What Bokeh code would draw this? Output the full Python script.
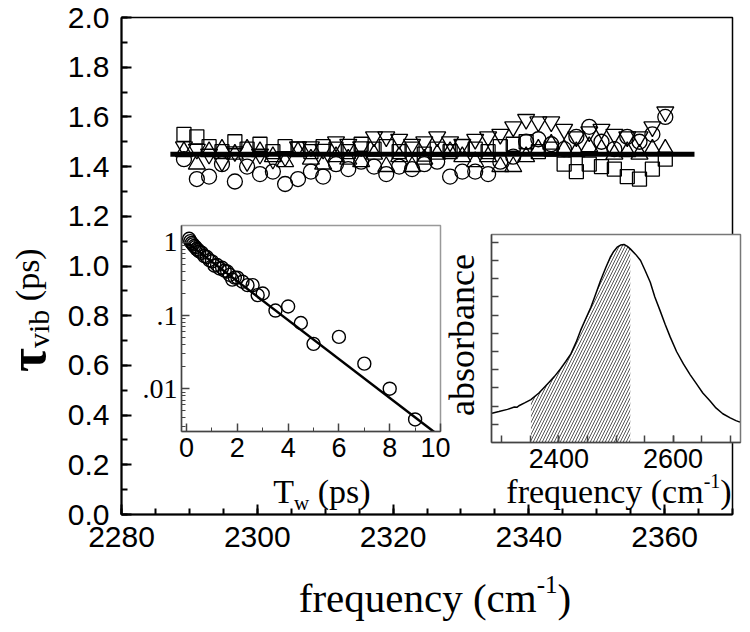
from bokeh.plotting import figure
from bokeh.models import FixedTicker, Range1d, Div
from bokeh.layouts import column
from bokeh.embed import file_html
from bokeh.resources import INLINE

# ---------------- main panel data ----------------
freq = [2289.2, 2291.1, 2292.9, 2294.8, 2296.7, 2298.5, 2300.4, 2302.3, 2304.1, 2306.0,
        2307.9, 2309.7, 2311.6, 2313.4, 2315.3, 2317.2, 2319.0, 2320.9, 2322.8, 2324.6,
        2326.5, 2328.4, 2330.2, 2332.1, 2334.0, 2335.8, 2337.7, 2339.6, 2341.4, 2343.3,
        2345.2, 2347.0, 2348.9, 2350.7, 2352.6, 2354.5, 2356.3, 2358.2, 2360.1]
tau_square = [1.53, 1.52, 1.48, 1.46, 1.50, 1.47, 1.49, 1.46, 1.48, 1.47,
              1.46, 1.48, 1.47, 1.46, 1.49, 1.47, 1.48, 1.46, 1.47, 1.45,
              1.47, 1.46, 1.48, 1.47, 1.46, 1.48, 1.49, 1.50, 1.46, 1.47,
              1.41, 1.38, 1.41, 1.40, 1.39, 1.36, 1.35, 1.39, 1.43]
tau_circle = [1.43, 1.35, 1.36, 1.41, 1.34, 1.40, 1.37, 1.38, 1.33, 1.35,
              1.38, 1.36, 1.41, 1.39, 1.42, 1.40, 1.37, 1.40, 1.39, 1.41,
              1.42, 1.36, 1.38, 1.38, 1.37, 1.42, 1.44, 1.50, 1.51, 1.49,
              1.47, 1.52, 1.56, 1.50, 1.47, 1.52, 1.50, 1.53, 1.60]
tau_up = [1.46, 1.41, 1.46, 1.47, 1.45, 1.47, 1.46, 1.44, 1.42, 1.46,
          1.43, 1.41, 1.44, 1.43, 1.42, 1.45, 1.40, 1.44, 1.40, 1.43,
          1.45, 1.46, 1.44, 1.42, 1.44, 1.40, 1.40, 1.44, 1.47, 1.49,
          1.47, 1.46, 1.48, 1.47, 1.45, 1.46, 1.45, 1.47, 1.47]
tau_down = [1.48, 1.47, 1.45, 1.42, 1.46, 1.42, 1.45, 1.43, 1.44, 1.48,
            1.48, 1.47, 1.50, 1.49, 1.48, 1.52, 1.52, 1.51, 1.49, 1.50,
            1.52, 1.50, 1.49, 1.51, 1.52, 1.53, 1.56, 1.59, 1.58, 1.58,
            1.55, 1.52, 1.54, 1.55, 1.53, 1.52, 1.52, 1.56, 1.62]
mean_freq = [2287.2, 2364.4]
mean_tau = [1.45, 1.45]

x_ticks = [2280, 2300, 2320, 2340, 2360]
y_ticks = [0.0, 0.2, 0.4, 0.6, 0.8, 1.0, 1.2, 1.4, 1.6, 1.8, 2.0]
y_tick_labels = ["0.0", "0.2", "0.4", "0.6", "0.8", "1.0", "1.2", "1.4", "1.6", "1.8", "2.0"]

# ---------------- inset 1 (decay) ----------------
tw = [0.1, 0.15, 0.2, 0.25, 0.3, 0.35, 0.4, 0.45, 0.5, 0.6, 0.7, 0.8, 0.9, 1.0, 1.1, 1.2,
      1.3, 1.4, 1.5, 1.6, 1.7, 1.8, 1.9, 2.0, 2.2, 2.4, 2.6, 2.8, 3.0, 3.5, 4.0, 4.5,
      5.0, 6.0, 7.0, 8.0, 9.0]
decay = [1.12, 1.04, 0.98, 0.94, 0.89, 0.86, 0.81, 0.79, 0.75, 0.72, 0.65, 0.63, 0.57,
         0.55, 0.48, 0.49, 0.44, 0.45, 0.41, 0.40, 0.36, 0.31, 0.33, 0.33, 0.29, 0.26,
         0.26, 0.19, 0.20, 0.117, 0.133, 0.079, 0.041, 0.051, 0.022, 0.010, 0.0038]
fit_tw = [0.0, 10.0]
fit_decay = [1.0, 0.0022]
tw_ticks = [0, 2, 4, 6, 8, 10]
log_ticks = [0.01, 0.1, 1.0]
log_tick_labels = [".01", ".1", "1"]

# ---------------- inset 2 (absorbance) ----------------
ir_freq = [2283, 2295, 2310, 2322, 2327, 2330, 2340, 2351, 2365, 2380, 2392, 2403, 2412,
           2421, 2430, 2438, 2447, 2456, 2465, 2473, 2482, 2490, 2496, 2502, 2508, 2514,
           2520, 2525, 2534, 2543, 2551, 2560, 2568, 2577, 2586, 2595, 2606, 2618, 2630,
           2641, 2652, 2664, 2675, 2687, 2700, 2710, 2717]
ir_abs = [0.161, 0.170, 0.182, 0.195, 0.194, 0.202, 0.218, 0.236, 0.272, 0.322, 0.362,
          0.405, 0.445, 0.487, 0.550, 0.616, 0.680, 0.743, 0.820, 0.890, 0.960, 1.018,
          1.050, 1.073, 1.085, 1.088, 1.078, 1.064, 1.035, 1.000, 0.945, 0.881, 0.800,
          0.726, 0.650, 0.579, 0.500, 0.432, 0.372, 0.322, 0.272, 0.231, 0.190, 0.158,
          0.135, 0.120, 0.112]
shade_lo, shade_hi = 2351, 2525
ir_ticks = [2400, 2600]

SANS = "Liberation Sans"
SERIF = "Liberation Serif"


def text_div(html, left, top, w, h, size):
    inner = ('<div style="width:%dpx;height:%dpx;line-height:%dpx;text-align:center;'
             'white-space:nowrap;font-family:\'Liberation Serif\';font-size:%dpx;'
             'color:black;">%s</div>' % (w, h, h, size, html))
    st = {"position": "absolute", "left": "%dpx" % left, "top": "%dpx" % top}
    return Div(text=inner, width=w, height=h, margin=0, styles=st)


def vtext_div(html, left, top, w, h, size):
    # vertical text reading bottom-to-top, box w (across) x h (along)
    inner = ('<div style="writing-mode:vertical-rl;transform:rotate(180deg);'
             'width:%dpx;height:%dpx;line-height:%dpx;text-align:center;'
             'white-space:nowrap;font-family:\'Liberation Serif\';font-size:%dpx;'
             'color:black;">%s</div>' % (w, h, w, size, html))
    st = {"position": "absolute", "left": "%dpx" % left, "top": "%dpx" % top}
    return Div(text=inner, width=w, height=h, margin=0, styles=st)


def sup(t, size):
    return '<span style="font-size:%dpx;position:relative;top:-0.75em">%s</span>' % (size, t)


def sub(t, size):
    return '<span style="font-size:%dpx;position:relative;top:0.35em">%s</span>' % (size, t)


# ================= main figure =================
p = figure(width=742, height=624, x_range=Range1d(2280, 2370), y_range=Range1d(0, 2.0),
           output_backend="svg", toolbar_location=None,
           min_border_left=121, min_border_right=10, min_border_top=17, min_border_bottom=110)
p.grid.visible = False
p.outline_line_color = "black"
p.outline_line_width = 1.5
p.background_fill_color = "white"

p.xaxis.ticker = FixedTicker(ticks=x_ticks, minor_ticks=list(range(2280, 2371, 5)))
p.yaxis.ticker = FixedTicker(ticks=y_ticks, minor_ticks=[i / 10 for i in range(0, 21)])
p.yaxis.major_label_overrides = {t: l for t, l in zip(y_ticks, y_tick_labels)}
for ax in (p.xaxis[0], p.yaxis[0]):
    ax.axis_line_width = 2
    ax.major_tick_line_width = 2
    ax.minor_tick_line_width = 2
    ax.major_tick_in = 10
    ax.major_tick_out = 0
    ax.minor_tick_in = 6
    ax.minor_tick_out = 0
    ax.major_label_text_font = SANS
    ax.major_label_text_font_size = "30px"
    ax.major_label_text_color = "black"
    ax.major_label_standoff = 12

mk = dict(fill_color=None, line_color="black", line_width=1.3)
p.scatter(freq, tau_square, marker="square", size=14, **mk)
p.scatter(freq, tau_circle, marker="circle", size=15, **mk)
p.scatter(freq, tau_up, marker="triangle", size=17, **mk)
p.scatter(freq, tau_down, marker="inverted_triangle", size=17, **mk)
p.line(mean_freq, mean_tau, line_color="black", line_width=5)

# ================= inset 1 =================
i1 = figure(width=390, height=291, x_range=Range1d(-0.2, 10), y_range=Range1d(0.0026, 1.7),
            y_axis_type="log", output_backend="svg", toolbar_location=None,
            min_border_left=121, min_border_right=10, min_border_top=5, min_border_bottom=80,
            styles={"position": "absolute", "left": "60px", "top": "220px"})
i1.grid.visible = False
i1.outline_line_color = "#999999"
i1.outline_line_width = 1.5
i1.background_fill_color = "white"
i1.border_fill_alpha = 0
i1.xaxis.ticker = FixedTicker(ticks=tw_ticks, minor_ticks=list(range(0, 11)))
minor_log = [m * 10.0 ** e for e in (-3, -2, -1) for m in range(1, 10)]
i1.yaxis.ticker = FixedTicker(ticks=log_ticks, minor_ticks=minor_log)
i1.yaxis.major_label_overrides = {t: l for t, l in zip(log_ticks, log_tick_labels)}
for ax in (i1.xaxis[0], i1.yaxis[0]):
    ax.axis_line_color = "#444444"
    ax.axis_line_width = 1.5
    ax.major_tick_line_color = "#444444"
    ax.minor_tick_line_color = "#444444"
    ax.major_tick_line_width = 1.5
    ax.major_tick_in = 8
    ax.major_tick_out = 0
    ax.minor_tick_in = 4
    ax.minor_tick_out = 0
    ax.major_label_text_color = "black"
i1.xaxis.major_label_text_font = SANS
i1.xaxis.major_label_text_font_size = "27px"
i1.xaxis.major_label_standoff = 6
i1.yaxis.major_label_text_font = SERIF
i1.yaxis.major_label_text_font_size = "28px"
i1.yaxis.major_label_standoff = 4

i1.scatter(tw, decay, marker="circle", size=13, fill_color=None, line_color="black", line_width=1.4)
i1.line(fit_tw, fit_decay, line_color="black", line_width=2.5)

# ================= inset 2 =================
i2 = figure(width=380, height=293, x_range=Range1d(2282, 2718), y_range=Range1d(0, 1.143),
            output_backend="svg", toolbar_location=None,
            min_border_left=121, min_border_right=10, min_border_top=5, min_border_bottom=80,
            styles={"position": "absolute", "left": "370px", "top": "229px"})
i2.grid.visible = False
i2.outline_line_color = "#777777"
i2.outline_line_width = 1.5
i2.background_fill_color = "white"
i2.border_fill_alpha = 0
i2.xaxis.ticker = FixedTicker(ticks=ir_ticks, minor_ticks=list(range(2300, 2701, 50)))
i2.yaxis.ticker = FixedTicker(ticks=[], minor_ticks=[k / 10 for k in range(1, 12)])
for ax in (i2.xaxis[0], i2.yaxis[0]):
    ax.axis_line_color = "#444444"
    ax.axis_line_width = 1.5
    ax.major_tick_line_color = "#444444"
    ax.minor_tick_line_color = "#444444"
    ax.major_tick_line_width = 1.5
    ax.minor_tick_line_width = 1.5
    ax.major_tick_in = 7
    ax.major_tick_out = 0
    ax.minor_tick_in = 7
    ax.minor_tick_out = 0
i2.xaxis.major_label_text_font = SANS
i2.xaxis.major_label_text_font_size = "27px"
i2.xaxis.major_label_text_color = "black"
i2.xaxis.major_label_standoff = 6

sx = [f for f in ir_freq if shade_lo <= f <= shade_hi]
sy = [a for f, a in zip(ir_freq, ir_abs) if shade_lo <= f <= shade_hi]
i2.varea(x=sx, y1=[0] * len(sx), y2=sy, fill_alpha=0, hatch_pattern="/",
         hatch_color="#555555", hatch_scale=6, hatch_weight=1)
i2.line(ir_freq, ir_abs, line_color="black", line_width=1.5)

# ================= text labels (page-positioned) =================
xlab_main = text_div("frequency (cm" + sup("-1", 25) + ")", 235, 573, 400, 50, 41)
ylab_main = vtext_div('<span style="font-size:52px;font-weight:bold">\u03c4</span>'
                      '<span style="font-size:30px;position:relative;left:-0.35em">vib</span>'
                      '<span style="font-size:34px">&nbsp;(ps)</span>',
                      0, 190, 56, 240, 34)
xlab_i1 = text_div("T" + sub("w", 21) + "&nbsp;(ps)", 222, 470, 200, 44, 34)
xlab_i2 = text_div("frequency (cm" + sup("-1", 20) + ")", 489, 470, 260, 44, 34)
ylab_i2 = vtext_div("absorbance", 440, 225, 44, 220, 36)

layout = column(p, i1, i2, xlab_main, ylab_main, xlab_i1, xlab_i2, ylab_i2,
                styles={"position": "relative"})
open("out.html", "w").write(file_html(layout, INLINE))
